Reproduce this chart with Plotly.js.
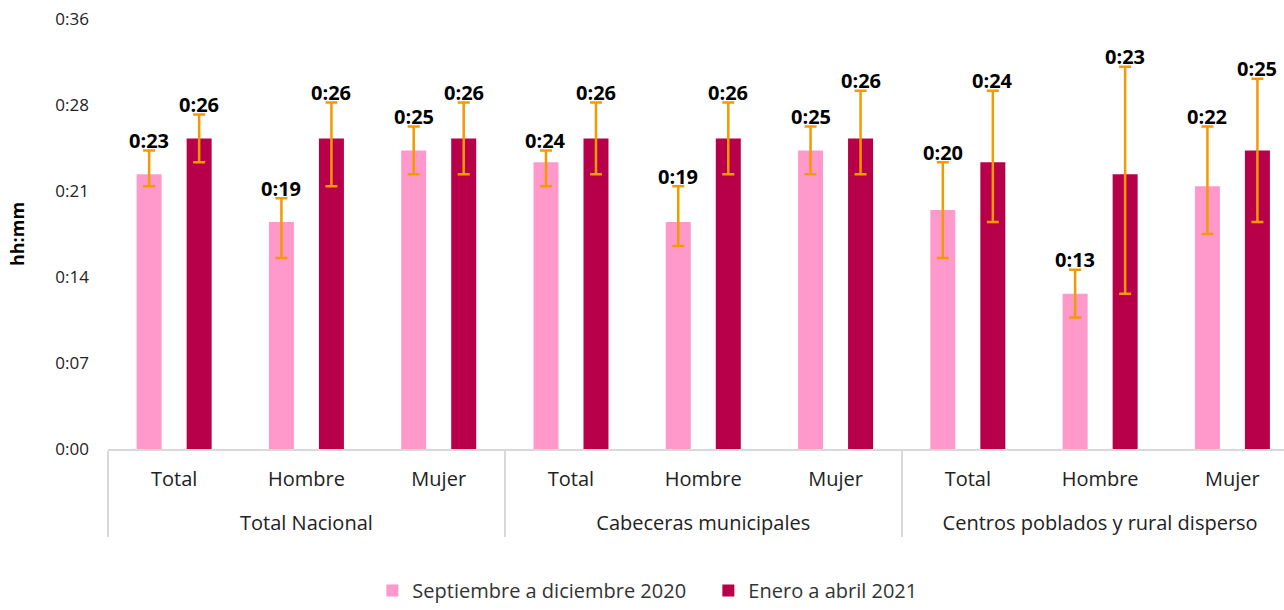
<!DOCTYPE html>
<html>
<head>
<meta charset="utf-8">
<script src="https://cdn.plot.ly/plotly-3.0.1.min.js"></script>
<style>
  html, body { margin: 0; padding: 0; background: #fff; }
  #chart { width: 1284px; height: 610px; }
</style>
</head>
<body>
<div id="chart"></div>
<script>
// groups and sub-categories
var groups = ['Total Nacional', 'Cabeceras municipales', 'Centros poblados y rural disperso'];
var subcats = ['Total', 'Hombre', 'Mujer'];

// minutes
var sepDic2020 = [23, 19, 25, 24, 19, 25, 20, 13, 22];
var eneAbr2021 = [26, 26, 26, 26, 26, 26, 24, 23, 25];

// confidence interval (minutes above / below)
var sepErrUp   = [2, 2, 2, 1, 3, 2, 4, 2, 5];
var sepErrDown = [1, 3, 2, 2, 2, 2, 4, 2, 4];
var eneErrUp   = [2, 3, 3, 3, 3, 4, 6, 9, 6];
var eneErrDown = [2, 4, 3, 3, 3, 3, 5, 10, 6];

var yTickVals = [0, 7.2, 14.4, 21.6, 28.8, 36];
var yTickText = ['0:00', '0:07', '0:14', '0:21', '0:28', '0:36'];

// leading break gives the group row its extra spacing below the sub-categories
var xGroup = [], xSub = [];
groups.forEach(function(g) {
    subcats.forEach(function(s) {
        xGroup.push('<br>' + g);
        xSub.push(s);
    });
});

function hhmm(m) {
    return '0:' + (m < 10 ? '0' + m : m);
}

var errStyle = { color: '#f29b00', thickness: 2.5, width: 6 };

var trace1 = {
    x: [xGroup, xSub],
    y: sepDic2020,
    type: 'bar',
    name: 'Septiembre a diciembre 2020',
    marker: { color: '#ff99cc' },
    error_y: Object.assign({ type: 'data', symmetric: false, array: sepErrUp, arrayminus: sepErrDown }, errStyle),
    hoverinfo: 'none'
};

var trace2 = {
    x: [xGroup, xSub],
    y: eneAbr2021,
    type: 'bar',
    name: 'Enero a abril 2021',
    marker: { color: '#b8004a' },
    error_y: Object.assign({ type: 'data', symmetric: false, array: eneErrUp, arrayminus: eneErrDown }, errStyle),
    hoverinfo: 'none'
};

var annotations = [];
sepDic2020.forEach(function(v, i) {
    annotations.push({
        x: i, y: v + sepErrUp[i], xref: 'x', yref: 'y',
        text: hhmm(v), showarrow: false, xshift: -25, yshift: 10, yanchor: 'middle',
        font: { family: 'Open Sans', size: 20, color: '#000', weight: 'bold' }
    });
});
eneAbr2021.forEach(function(v, i) {
    annotations.push({
        x: i, y: v + eneErrUp[i], xref: 'x', yref: 'y',
        text: hhmm(v), showarrow: false, xshift: 25, yshift: 10, yanchor: 'middle',
        font: { family: 'Open Sans', size: 20, color: '#000', weight: 'bold' }
    });
});

var layout = {
    width: 1284,
    height: 610,
    margin: { l: 108, r: 0, t: 19, b: 161 },
    font: { family: 'Open Sans', color: '#222' },
    barmode: 'group',
    bargap: 0.244,
    bargroupgap: 0.5,
    showlegend: true,
    legend: {
        orientation: 'h',
        xref: 'container', yref: 'container',
        x: 0.29, xanchor: 'left', y: 0.032, yanchor: 'middle',
        itemwidth: 30,
        entrywidth: 291,
        font: { size: 20, color: '#333' }
    },
    xaxis: {
        type: 'multicategory',
        automargin: false,
        range: [-0.5, 8.39],
        showline: true,
        linecolor: '#d9d9d9',
        linewidth: 1.5,
        showdividers: true,
        dividercolor: '#d9d9d9',
        dividerwidth: 1.5,
        ticks: 'outside',
        ticklen: 5,
        tickcolor: 'rgba(0,0,0,0)',
        ticklabelstandoff: 11,
        tickfont: { size: 20, color: '#222' },
        showgrid: false
    },
    yaxis: {
        automargin: false,
        range: [0, 36],
        tickvals: yTickVals,
        ticktext: yTickText,
        showgrid: false,
        zeroline: false,
        showline: false,
        ticklabelstandoff: 18,
        tickfont: { size: 17, color: '#222' },
        title: { text: 'hh:mm', font: { size: 18, weight: 'bold', color: '#000' }, standoff: 26 }
    },
    annotations: annotations,
    plot_bgcolor: '#fff',
    paper_bgcolor: '#fff'
};

Plotly.newPlot('chart', [trace1, trace2], layout, { displayModeBar: false });
</script>
</body>
</html>
